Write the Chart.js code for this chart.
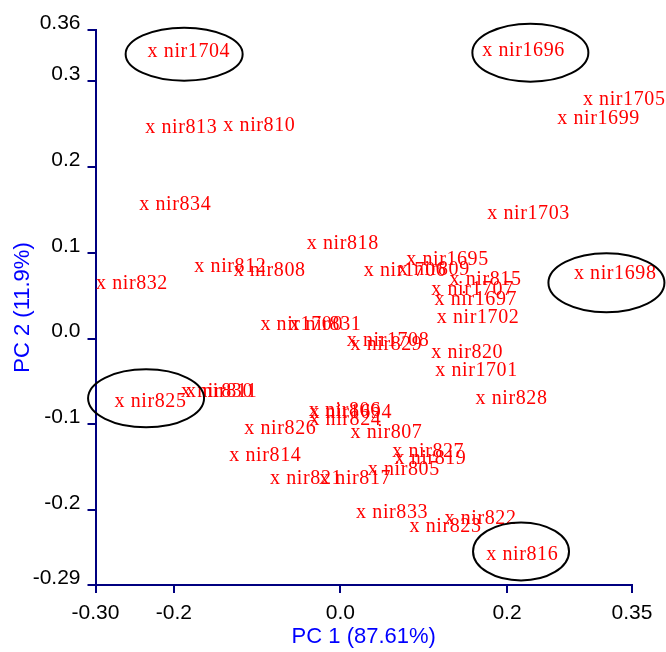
<!DOCTYPE html>
<html>
<head>
<meta charset="utf-8">
<script src="https://cdn.jsdelivr.net/npm/chart.js@4.4.1/dist/chart.umd.min.js"></script>
<style>
  html, body { margin: 0; padding: 0; background: #fff; }
  #pca { display: block; }
</style>
</head>
<body>
<canvas id="pca" width="666" height="652"></canvas>
<script>
// PCA score plot, PC1 vs PC2, labelled samples

const sampleNames = [
  'nir1704', 'nir1696', 'nir1705', 'nir1699', 'nir813', 'nir810', 'nir834', 'nir1703',
  'nir818', 'nir1695', 'nir812', 'nir808', 'nir832', 'nir1706', 'nir809', 'nir815',
  'nir1698', 'nir1707', 'nir1697', 'nir1702', 'nir1700', 'nir831', 'nir1708', 'nir829',
  'nir820', 'nir1701', 'nir828', 'nir825', 'nir830', 'nir811', 'nir806', 'nir1694',
  'nir824', 'nir826', 'nir807', 'nir827', 'nir819', 'nir814', 'nir805', 'nir821',
  'nir817', 'nir833', 'nir823', 'nir822', 'nir816'
];
const pc1 = [
  -0.2251, 0.1766, 0.2974, 0.2667, -0.2279, -0.1342, -0.2351, 0.1826,
  -0.0341, 0.0853, -0.1690, -0.1218, -0.2871, 0.0344, 0.0752, 0.1373,
  0.2866, 0.1153, 0.1193, 0.1220, -0.0897, -0.0549, 0.0139, 0.0184,
  0.1153, 0.1201, 0.1685, -0.2648, -0.1850, -0.1790, -0.0317, -0.0309,
  -0.0309, -0.1090, 0.0184, 0.0685, 0.0712, -0.1270, 0.0392, -0.0781,
  -0.0192, 0.0252, 0.0893, 0.1313, 0.1814
];
const pc2 = [
  0.3339, 0.3347, 0.2775, 0.2553, 0.2456, 0.2475, 0.1549, 0.1452,
  0.1094, 0.0907, 0.0829, 0.0779, 0.0636, 0.0783, 0.0791, 0.0674,
  0.0744, 0.0557, 0.0441, 0.0234, 0.0149, 0.0149, -0.0034, -0.0085,
  -0.0170, -0.0385, -0.0707, -0.0746, -0.0630, -0.0630, -0.0855, -0.0878,
  -0.0960, -0.1065, -0.1108, -0.1330, -0.1407, -0.1380, -0.1544, -0.1640,
  -0.1640, -0.2037, -0.2205, -0.2115, -0.2527
];

// circled groups: centre in score units
const circleNames = ['nir1704', 'nir1696', 'nir1698', 'nir825', 'nir816'];
const circlePc1 = [-0.1876, 0.2280, 0.3193, -0.2333, 0.2168];
const circlePc2 = [0.3318, 0.3335, 0.0651, -0.0697, -0.2483];

const xTickValues = [-0.294, -0.2, 0.0, 0.2, 0.35];
const xTickLabels = ['-0.30', '-0.2', '0.0', '0.2', '0.35'];
const yTickValues = [0.36, 0.3, 0.2, 0.1, 0.0, -0.1, -0.2, -0.2875];
const yTickLabels = ['0.36', '0.3', '0.2', '0.1', '0.0', '-0.1', '-0.2', '-0.29'];

const AXIS = '#000080';
const BLUE = '#0000ff';
const RED = '#ff0000';
const circleRx = [58.5, 58, 58, 58, 48];
const circleRy = [26.5, 29, 29.5, 29, 29];

const points = pc1.map((v, i) => ({ x: v, y: pc2[i] }));

const labelPlugin = {
  id: 'sampleLabels',
  afterDatasetsDraw(chart) {
    const ctx = chart.ctx;
    const meta = chart.getDatasetMeta(0);
    const xs = chart.scales.x;
    const ys = chart.scales.y;
    ctx.save();
    ctx.font = '20px "Liberation Serif", "Times New Roman", serif';
    if ('letterSpacing' in ctx) ctx.letterSpacing = '0.6px';
    ctx.fillStyle = RED;
    ctx.textAlign = 'left';
    ctx.textBaseline = 'alphabetic';
    const half = ctx.measureText('x').width / 2;
    meta.data.forEach((pt, i) => {
      ctx.fillText('x ' + sampleNames[i], pt.x - half, pt.y + 4.5);
    });

    // ellipses around the highlighted samples
    ctx.strokeStyle = '#000';
    ctx.lineWidth = 2;
    circleNames.forEach((name, i) => {
      const cx = xs.getPixelForValue(circlePc1[i]);
      const cy = ys.getPixelForValue(circlePc2[i]);
      ctx.beginPath();
      ctx.ellipse(cx, cy, circleRx[i], circleRy[i], 0, 0, Math.PI * 2);
      ctx.stroke();
    });
    ctx.restore();
  }
};

new Chart(document.getElementById('pca').getContext('2d'), {
  type: 'scatter',
  data: {
    datasets: [{
      label: 'scores',
      data: points,
      pointRadius: 0,
      pointHoverRadius: 0
    }]
  },
  options: {
    responsive: false,
    animation: false,
    devicePixelRatio: 1,
    layout: { padding: { top: 30, right: 34, left: 0, bottom: 0 } },
    plugins: {
      legend: { display: false },
      tooltip: { enabled: false }
    },
    scales: {
      x: {
        type: 'linear',
        min: -0.294,
        max: 0.35,
        afterBuildTicks: (scale) => { scale.ticks = xTickValues.map(v => ({ value: v })); },
        afterFit: (scale) => { scale.height = 67; },
        border: { display: true, color: AXIS, width: 2 },
        grid: { display: true, drawOnChartArea: false, drawTicks: true, tickLength: 8, color: AXIS, lineWidth: 2 },
        ticks: {
          autoSkip: false,
          maxRotation: 0,
          padding: 8,
          color: '#000',
          font: { family: '"Liberation Sans", Arial, sans-serif', size: 21 },
          callback: (value, index) => xTickLabels[index]
        },
        title: {
          display: true,
          text: 'PC 1 (87.61%)',
          color: BLUE,
          font: { family: '"Liberation Sans", Arial, sans-serif', size: 22 },
          padding: { top: 0, bottom: 2 }
        }
      },
      y: {
        type: 'linear',
        min: -0.2875,
        max: 0.36,
        afterBuildTicks: (scale) => { scale.ticks = yTickValues.map(v => ({ value: v })); },
        afterFit: (scale) => { scale.width = 95.5; },
        border: { display: true, color: AXIS, width: 2 },
        grid: { display: true, drawOnChartArea: false, drawTicks: true, tickLength: 8, color: AXIS, lineWidth: 2 },
        ticks: {
          autoSkip: false,
          padding: 7,
          labelOffset: -7,
          color: '#000',
          font: { family: '"Liberation Sans", Arial, sans-serif', size: 21 },
          callback: (value, index) => yTickLabels[index]
        },
        title: {
          display: true,
          text: 'PC 2 (11.9%)',
          color: BLUE,
          font: { family: '"Liberation Sans", Arial, sans-serif', size: 22 },
          padding: { top: 10, bottom: 0 }
        }
      }
    }
  },
  plugins: [labelPlugin]
});
</script>
</body>
</html>
